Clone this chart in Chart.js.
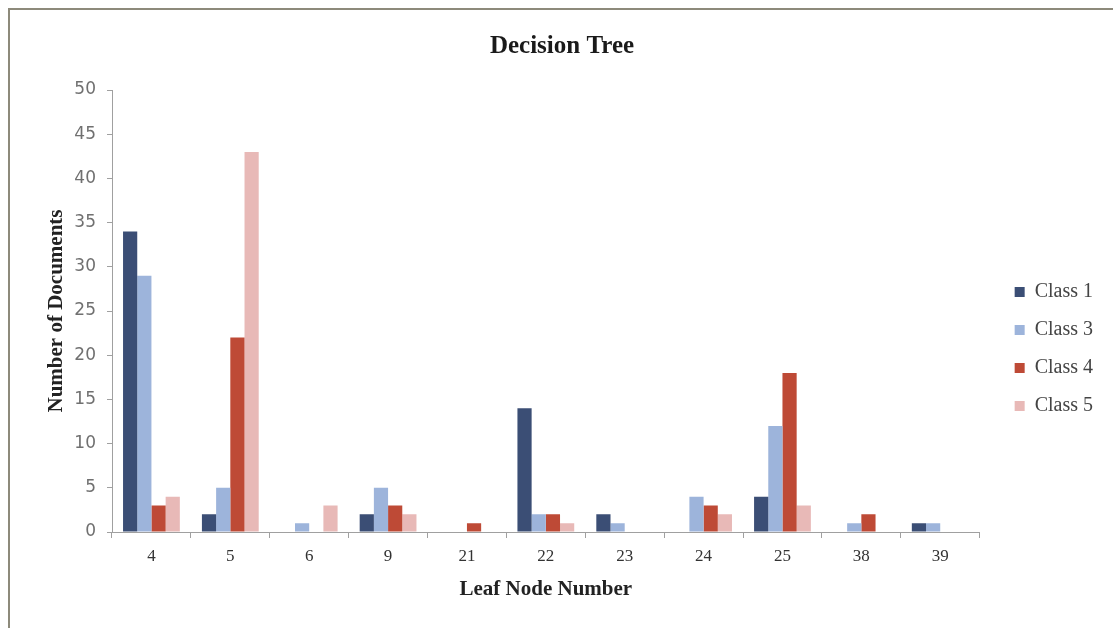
<!DOCTYPE html>
<html>
<head>
<meta charset="utf-8">
<script src="https://cdn.jsdelivr.net/npm/chart.js@4/dist/chart.umd.min.js"></script>
<style>
  html, body { margin: 0; padding: 0; background: #ffffff; }
  #wrap { position: relative; width: 1113px; height: 628px; overflow: hidden; }
  #frame { position: absolute; left: 8px; top: 8px; right: -10px; bottom: -10px;
           border-top: 2px solid #8d8a7b; border-left: 2px solid #8d8a7b; pointer-events: none; }
  canvas { position: absolute; left: 0; top: 0; }
</style>
</head>
<body>
<div id="wrap">
  <canvas id="c" width="1113" height="628"></canvas>
  <div id="frame"></div>
</div>
<script>
const categories = ['4', '5', '6', '9', '21', '22', '23', '24', '25', '38', '39'];
const seriesNames = ['Class 1', 'Class 3', 'Class 4', 'Class 5'];
const class1 = [34, 2, 0, 2, 0, 14, 2, 0, 4, 0, 1];
const class3 = [29, 5, 1, 5, 0, 2, 1, 4, 12, 1, 1];
const class4 = [3, 22, 0, 3, 1, 2, 0, 3, 18, 2, 0];
const class5 = [4, 43, 3, 2, 0, 1, 0, 2, 3, 0, 0];
const yTicks = { min: 0, max: 50, step: 5 };

const colors = ['#3b4e75', '#9db4db', '#be4a36', '#e8b9b7'];
const values = [class1, class3, class4, class5];

const legendShift = {
  id: 'legendShift',
  afterLayout(chart) {
    const l = chart.legend;
    if (!l) return;
    l.left += 17; l.right += 17;
    l.top += 35; l.bottom += 35;
  }
};

const serif = "'Liberation Serif', 'Times New Roman', serif";

new Chart(document.getElementById('c'), {
  type: 'bar',
  data: {
    labels: categories,
    datasets: seriesNames.map((n, i) => ({
      label: n,
      data: values[i],
      backgroundColor: colors[i],
      borderWidth: 0,
      categoryPercentage: 0.72,
      barPercentage: 1.0
    }))
  },
  plugins: [legendShift],
  options: {
    responsive: false,
    animation: false,
    layout: { padding: { left: 38, right: 27, top: 0, bottom: 0 } },
    plugins: {
      title: {
        display: true,
        text: 'Decision Tree',
        color: '#1a1a1a',
        font: { family: serif, size: 25, weight: 'bold' },
        padding: { top: 32, bottom: 28 }
      },
      legend: {
        position: 'right',
        labels: {
          boxWidth: 10,
          boxHeight: 10,
          padding: 18,
          color: '#444444',
          font: { family: serif, size: 20 }
        }
      },
      tooltip: { enabled: false }
    },
    scales: {
      x: {
        afterFit(s) { s.height = 96; },
        grid: { display: true, drawOnChartArea: false, drawTicks: true, tickLength: 6, color: '#a0a0a0', offset: true },
        border: { display: true, color: '#a0a0a0', width: 1 },
        ticks: { color: '#333333', font: { family: serif, size: 17 }, padding: 8, maxRotation: 0 },
        title: {
          display: true,
          text: 'Leaf Node Number',
          color: '#222222',
          font: { family: serif, size: 21, weight: 'bold' },
          padding: { top: 0, bottom: 25.4 }
        }
      },
      y: {
        min: yTicks.min,
        max: yTicks.max,
        afterFit(s) { s.width = 74; },
        grid: { display: true, drawOnChartArea: false, drawTicks: true, tickLength: 5, color: '#a0a0a0' },
        border: { display: true, color: '#a0a0a0', width: 1 },
        ticks: { stepSize: yTicks.step, color: '#707070', font: { family: "'DejaVu Sans', sans-serif", size: 17 }, padding: 11 },
        title: {
          display: true,
          text: 'Number of Documents',
          color: '#222222',
          font: { family: serif, size: 21, weight: 'bold' },
          padding: { top: 6.4, bottom: 0 }
        }
      }
    }
  }
});
</script>
</body>
</html>
